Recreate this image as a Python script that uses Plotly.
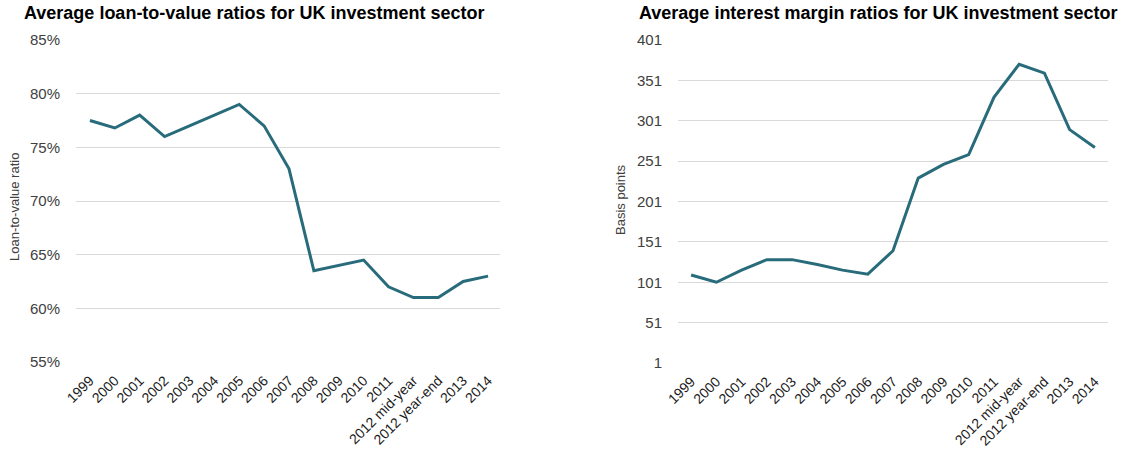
import plotly.graph_objects as go

categories = ["1999", "2000", "2001", "2002", "2003", "2004", "2005", "2006", "2007",
              "2008", "2009", "2010", "2011", "2012 mid-year", "2012 year-end", "2013", "2014"]
ltv_pct = [77.5, 76.8, 78.0, 76.0, 77.0, 78.0, 79.0, 77.0, 73.0,
           63.5, 64.0, 64.5, 62.0, 61.0, 61.0, 62.5, 63.0]
margin_bp = [110, 101, 116, 129, 129, 123, 116, 111, 140,
             230, 247, 259, 330, 371, 360, 290, 268]
ltv_ticks = [55, 60, 65, 70, 75, 80, 85]
ltv_ticktext = ["55%", "60%", "65%", "70%", "75%", "80%", "85%"]
bp_ticks = [1, 51, 101, 151, 201, 251, 301, 351, 401]

W, H = 1126, 452
LINE = "#286b7b"
GRID = "#d9d9d9"
FONT = "Liberation Sans, Arial, sans-serif"
TXT = "#404040"

fig = go.Figure()
fig.add_trace(go.Scatter(x=categories, y=ltv_pct, mode="lines", line=dict(color=LINE, width=3),
                         xaxis="x", yaxis="y", showlegend=False))
fig.add_trace(go.Scatter(x=categories, y=margin_bp, mode="lines", line=dict(color=LINE, width=3),
                         xaxis="x2", yaxis="y2", showlegend=False))

def px_x(p):
    return p / W

def px_y(p):
    return 1 - p / H

xcommon = dict(type="category", tickangle=-45, showgrid=False, zeroline=False, showline=False,
               ticks="outside", ticklen=4, tickcolor="rgba(0,0,0,0)", automargin=False,
               tickfont=dict(family=FONT, size=14, color="#1a1a1a"))
ycommon = dict(showgrid=True, gridcolor=GRID, gridwidth=1, zeroline=False, showline=False,
               ticks="outside", ticklen=12, tickcolor="rgba(0,0,0,0)", automargin=False,
               tickfont=dict(family=FONT, size=15, color=TXT))

fig.update_layout(
    width=W, height=H,
    margin=dict(l=0, r=0, t=0, b=0),
    paper_bgcolor="white", plot_bgcolor="white",
    xaxis=dict(domain=[px_x(76), px_x(500)], anchor="y", range=[-0.56, 16.48], **xcommon),
    yaxis=dict(domain=[px_y(362), px_y(40)], anchor="x", range=[55, 85],
               tickvals=ltv_ticks, ticktext=ltv_ticktext, **ycommon),
    xaxis2=dict(domain=[px_x(678), px_x(1108)], anchor="y2", range=[-0.52, 16.52], **xcommon),
    yaxis2=dict(domain=[px_y(363), px_y(40)], anchor="x2", range=[1, 401],
                tickvals=bp_ticks, **ycommon),
    annotations=[
        dict(text="<b>Average loan-to-value ratios for UK investment sector</b>",
             x=px_x(22), y=px_y(13), xref="paper", yref="paper", xanchor="left", yanchor="middle",
             showarrow=False, font=dict(family=FONT, size=18, color="#000000")),
        dict(text="<b>Average interest margin ratios for UK investment sector</b>",
             x=px_x(637), y=px_y(13), xref="paper", yref="paper", xanchor="left", yanchor="middle",
             showarrow=False, font=dict(family=FONT, size=18, color="#000000")),
        dict(text="Loan-to-value ratio", textangle=-90,
             x=px_x(14), y=px_y(207), xref="paper", yref="paper", xanchor="center", yanchor="middle",
             showarrow=False, font=dict(family=FONT, size=13, color=TXT)),
        dict(text="Basis points", textangle=-90,
             x=px_x(620), y=px_y(200), xref="paper", yref="paper", xanchor="center", yanchor="middle",
             showarrow=False, font=dict(family=FONT, size=13, color=TXT)),
    ],
)

fig.write_html("out.html")
